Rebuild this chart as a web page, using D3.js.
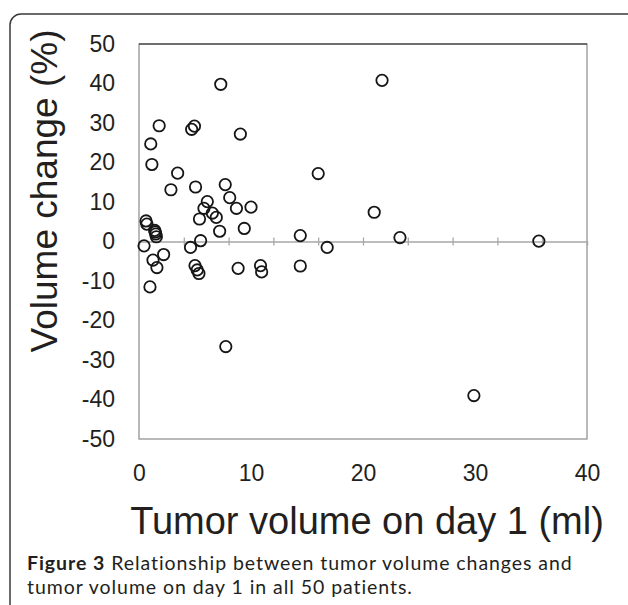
<!DOCTYPE html>
<html>
<head>
<meta charset="utf-8">
<script src="https://cdn.jsdelivr.net/npm/d3@7"></script>
<style>
  html, body { margin: 0; padding: 0; background: #fff; }
  svg { display: block; }
</style>
</head>
<body>
<svg id="chart" width="628" height="605"></svg>
<script>
// Tumor volume on day 1 (ml)
const tumorVolume = [
  7.3, 21.7, 1.8, 4.95, 4.7, 9.05, 1.05, 1.15, 3.45, 16.0,
  2.85, 5.05, 7.7, 8.1, 6.1, 5.8, 8.7, 10.0, 6.55, 6.9,
  5.4, 0.63, 0.7, 9.4, 7.2, 14.4, 1.4, 1.5, 1.55, 5.5,
  0.45, 4.6, 16.8, 2.2, 1.25, 1.6, 5.0, 5.2, 5.35, 8.85,
  10.85, 10.95, 14.4, 0.98, 7.75, 21.0, 23.3, 35.7, 29.9, 1.45
];
// Volume change (%)
const volumeChange = [
  39.8, 40.8, 29.3, 29.2, 28.4, 27.2, 24.7, 19.5, 17.3, 17.2,
  13.1, 13.8, 14.4, 11.1, 10.1, 8.4, 8.4, 8.7, 7.2, 6.1,
  5.7, 5.2, 4.4, 3.3, 2.6, 1.5, 2.8, 1.9, 1.2, 0.2,
  -1.1, -1.5, -1.5, -3.3, -4.7, -6.6, -6.1, -7.2, -8.1, -6.8,
  -6.1, -7.7, -6.2, -11.5, -26.6, 7.4, 1.0, 0.1, -39.0, 2.4
];
const xTicks = [0, 10, 20, 30, 40];
const xMinorTicks = [4, 8, 12, 16, 20, 24, 28, 32, 36];
const yTicks = [50, 40, 30, 20, 10, 0, -10, -20, -30, -40, -50];
const xTitle = "Tumor volume on day 1 (ml)";
const yTitle = "Volume change (%)";
const captionBold = "Figure 3";
const captionLine1 = " Relationship between tumor volume changes and";
const captionLine2 = "tumor volume on day 1 in all 50 patients.";

const svg = d3.select("#chart");
const L = 139, R = 587, T = 44, B = 439;
const x = d3.scaleLinear().domain([0, 40]).range([L, R]);
const y = d3.scaleLinear().domain([-50, 50]).range([B, T]);
const ink = "#231f20";
const sansChart = "'Liberation Sans', Arial, Helvetica, sans-serif";
const fmt = d => String(d); // plain hyphen-minus like the original

// outer rounded frame
svg.append("rect")
  .attr("x", 10).attr("y", 14).attr("width", 640).attr("height", 640)
  .attr("rx", 11).attr("ry", 11)
  .attr("fill", "none").attr("stroke", "#3a3a3a").attr("stroke-width", 1.5);

// plot area border
svg.append("rect")
  .attr("x", L).attr("y", T).attr("width", R - L).attr("height", B - T)
  .attr("fill", "none").attr("stroke", "#8a8a8a").attr("stroke-width", 1.2);
svg.append("line")
  .attr("x1", L).attr("x2", R).attr("y1", T).attr("y2", T)
  .attr("stroke", "#222").attr("stroke-width", 1.2);

// zero line with tick marks (x axis crossing at 0)
const zeroAxis = d3.axisBottom(x).tickValues(xMinorTicks).tickSize(4).tickFormat("");
const zg = svg.append("g").attr("transform", `translate(0,${y(0)})`).call(zeroAxis);
zg.select(".domain").attr("stroke", "#a8a8a8").attr("stroke-width", 1.5);
zg.selectAll(".tick line").attr("stroke", "#a8a8a8").attr("stroke-width", 1.3).attr("y1", -4).attr("y2", 4);

// y axis labels
const yAxis = d3.axisLeft(y).tickValues(yTicks).tickSize(0).tickPadding(24).tickFormat(fmt);
const yg = svg.append("g").attr("transform", `translate(${L},0)`).call(yAxis);
yg.select(".domain").remove();
yg.selectAll(".tick text")
  .attr("font-family", sansChart).attr("font-size", 23).attr("fill", ink);

// x axis labels
const xAxis = d3.axisBottom(x).tickValues(xTicks).tickSize(0).tickPadding(26).tickFormat(fmt);
const xg = svg.append("g").attr("transform", `translate(0,${B})`).call(xAxis);
xg.select(".domain").remove();
xg.selectAll(".tick text")
  .attr("font-family", sansChart).attr("font-size", 23).attr("fill", ink);

// points
const pts = tumorVolume.map((v, i) => ({ x: v, y: volumeChange[i] }));
svg.append("g").selectAll("circle").data(pts).join("circle")
  .attr("cx", d => x(d.x)).attr("cy", d => y(d.y)).attr("r", 5.7)
  .attr("fill", "none").attr("stroke", "#161616").attr("stroke-width", 1.8);

// axis titles
svg.append("text")
  .attr("x", 367).attr("y", 534)
  .attr("text-anchor", "middle")
  .attr("font-family", sansChart).attr("font-size", 38).attr("fill", ink)
  .text(xTitle);
svg.append("text")
  .attr("transform", `translate(57,191) rotate(-90)`)
  .attr("text-anchor", "middle")
  .attr("font-family", sansChart).attr("font-size", 37).attr("fill", ink)
  .text(yTitle);

// caption
const capFont = "Lato, 'Open Sans', sans-serif";
const capSize = 19.5;
const cap1 = svg.append("text")
  .attr("x", 27).attr("y", 570)
  .attr("font-family", capFont).attr("font-size", capSize).attr("fill", ink);
cap1.append("tspan").attr("font-weight", "bold").text(captionBold);
cap1.append("tspan").text(captionLine1);
const cap2 = svg.append("text")
  .attr("x", 27).attr("y", 594)
  .attr("font-family", capFont).attr("font-size", capSize).attr("fill", ink)
  .text(captionLine2);
// widen letter spacing so that line 1 spans the same width as the original
const targetW = 546;
const w1 = cap1.node().getComputedTextLength();
const nChars = (captionBold + captionLine1).length;
const ls = Math.max(0, Math.min(1.2, (targetW - w1) / nChars));
cap1.attr("letter-spacing", ls);
cap2.attr("letter-spacing", ls);
</script>
</body>
</html>
